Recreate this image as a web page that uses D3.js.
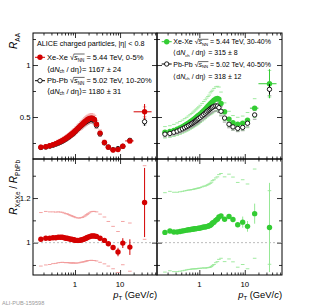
<!DOCTYPE html>
<html>
<head>
<meta charset="utf-8">
<script src="https://cdn.jsdelivr.net/npm/d3@7"></script>
<style>
  body { margin: 0; background: #fff; }
  text { font-family: "Liberation Sans", Arial, sans-serif; fill: #000; }
</style>
</head>
<body>
<svg id="chart" width="315" height="306"></svg>
<script>
// pT bin edges (GeV/c)
const EDGES = [0.15,0.2,0.25,0.3,0.35,0.4,0.45,0.5,0.55,0.6,0.65,0.7,0.75,0.8,0.85,0.9,0.95,1.0,
  1.1,1.2,1.3,1.4,1.5,1.6,1.7,1.8,1.9,2.0,2.2,2.4,2.6,2.8,3.2,4.0,5.0,6.0,8.0,10,13,20,50];

// left: Xe-Xe 0-5% and Pb-Pb 10-20%
const XEXE_0_5 = [0.210,0.215,0.224,0.234,0.244,0.254,0.264,0.274,0.284,0.294,0.304,0.314,0.323,0.332,0.341,0.350,0.359,
  0.372,0.389,0.404,0.418,0.431,0.443,0.454,0.463,0.471,0.478,0.486,0.490,0.487,0.476,0.430,0.345,0.255,0.210,0.182,0.188,0.218,0.270,0.550];
const XEXE_0_5_STAT = [0,0,0,0,0,0,0,0,0,0,0,0,0,0,0,0,0,0,0,0,0,0,0,0,0,0,0,0,0,0,0,0,0,0,0.003,0.004,0.005,0.008,0.015,0.075];
const XEXE_0_5_SYS = [0.018,0.018,0.019,0.020,0.021,0.022,0.022,0.023,0.024,0.025,0.026,0.027,0.027,0.028,0.029,0.030,0.030,
  0.031,0.033,0.034,0.035,0.036,0.037,0.038,0.039,0.040,0.040,0.041,0.042,0.041,0.040,0.037,0.030,0.022,0.018,0.016,0.016,0.018,0.023,0.047];
const PBPB_10_20 = [0.207,0.211,0.220,0.229,0.239,0.248,0.258,0.268,0.278,0.288,0.298,0.308,0.318,0.327,0.336,0.345,0.355,
  0.368,0.385,0.400,0.413,0.425,0.436,0.446,0.454,0.461,0.466,0.473,0.476,0.473,0.462,0.418,0.338,0.252,0.211,0.186,0.196,0.218,0.275,0.455];
const PBPB_10_20_STAT = [0,0,0,0,0,0,0,0,0,0,0,0,0,0,0,0,0,0,0,0,0,0,0,0,0,0,0,0,0,0,0,0,0,0,0,0.002,0.003,0.005,0.010,0.040];
const PBPB_10_20_SYS = [0.014,0.015,0.015,0.016,0.017,0.017,0.018,0.019,0.019,0.020,0.021,0.022,0.022,0.023,0.024,0.024,0.025,
  0.026,0.027,0.028,0.029,0.030,0.031,0.031,0.032,0.032,0.033,0.033,0.033,0.033,0.032,0.029,0.024,0.018,0.015,0.013,0.014,0.015,0.019,0.032];

// right: Xe-Xe 30-40% and Pb-Pb 40-50%
const XEXE_30_40 = [0.353,0.360,0.371,0.383,0.395,0.407,0.419,0.430,0.441,0.452,0.462,0.472,0.482,0.491,0.500,0.509,0.517,
  0.530,0.546,0.561,0.576,0.590,0.603,0.615,0.627,0.638,0.648,0.662,0.674,0.678,0.672,0.630,0.550,0.480,0.445,0.430,0.440,0.470,0.585,0.820];
const XEXE_30_40_STAT = [0,0,0,0,0,0,0,0,0,0,0,0,0,0,0,0,0,0,0,0,0,0,0,0,0,0,0,0,0,0,0,0,0,0,0.004,0.006,0.008,0.012,0.020,0.140];
const XEXE_30_40_SYS = [0.055,0.056,0.058,0.060,0.062,0.063,0.065,0.067,0.069,0.070,0.072,0.074,0.075,0.077,0.078,0.079,0.081,
  0.083,0.085,0.088,0.090,0.092,0.094,0.096,0.105,0.108,0.110,0.113,0.116,0.117,0.116,0.110,0.086,0.075,0.069,0.067,0.069,0.073,0.091,0.128];
const PBPB_40_50 = [0.335,0.342,0.353,0.364,0.375,0.386,0.397,0.407,0.417,0.427,0.436,0.445,0.454,0.462,0.470,0.478,0.486,
  0.497,0.511,0.524,0.537,0.549,0.560,0.570,0.580,0.588,0.595,0.603,0.607,0.605,0.590,0.555,0.490,0.430,0.405,0.390,0.400,0.440,0.520,0.766];
const PBPB_40_50_STAT = [0,0,0,0,0,0,0,0,0,0,0,0,0,0,0,0,0,0,0,0,0,0,0,0,0,0,0,0,0,0,0,0,0,0,0.003,0.004,0.006,0.008,0.015,0.050];
const PBPB_40_50_SYS = [0.027,0.027,0.028,0.029,0.030,0.031,0.032,0.033,0.033,0.034,0.035,0.036,0.036,0.037,0.038,0.038,0.039,
  0.040,0.041,0.042,0.043,0.044,0.045,0.046,0.046,0.047,0.048,0.048,0.049,0.048,0.047,0.044,0.039,0.034,0.032,0.031,0.032,0.034,0.042,0.061];

// ratios Xe-Xe / Pb-Pb
const RATIO_CENTRAL = [1.015,1.020,1.020,1.022,1.022,1.024,1.024,1.024,1.022,1.020,1.020,1.018,1.016,1.015,1.014,1.013,1.012,
  1.010,1.010,1.010,1.012,1.013,1.015,1.017,1.020,1.022,1.025,1.027,1.030,1.030,1.030,1.028,1.020,1.010,0.995,0.978,0.958,0.998,0.980,1.180];
const RATIO_CENTRAL_STAT = [0,0,0,0,0,0,0,0,0,0,0,0,0,0,0,0,0,0,0,0,0,0,0,0,0,0,0,0,0,0,0,0,0,0,0,0.010,0.019,0.022,0.035,0.155];
const RATIO_CENTRAL_SYS = [0.120,0.120,0.118,0.116,0.115,0.114,0.113,0.112,0.111,0.110,0.109,0.108,0.107,0.106,0.105,0.104,0.103,
  0.102,0.101,0.100,0.100,0.100,0.101,0.102,0.103,0.104,0.105,0.107,0.109,0.110,0.110,0.110,0.108,0.105,0.100,0.095,0.092,0.097,0.108,0.165];
const RATIO_PERIPH = [1.046,1.052,1.048,1.048,1.050,1.052,1.054,1.056,1.058,1.058,1.060,1.060,1.062,1.062,1.063,1.064,1.065,
  1.066,1.068,1.070,1.070,1.072,1.074,1.076,1.078,1.082,1.088,1.092,1.100,1.105,1.115,1.120,1.105,1.117,1.104,1.080,1.092,1.073,1.130,1.068];
const RATIO_PERIPH_STAT = [0,0,0,0,0,0,0,0,0,0,0,0,0,0,0,0,0,0,0,0,0,0,0,0,0,0,0,0,0,0,0,0,0,0.005,0.008,0.010,0.025,0.024,0.045,0.200];
const RATIO_PERIPH_SYS = [0.178,0.178,0.178,0.178,0.178,0.178,0.178,0.178,0.178,0.178,0.178,0.178,0.179,0.179,0.180,0.180,0.180,
  0.181,0.182,0.183,0.184,0.185,0.186,0.187,0.188,0.189,0.190,0.190,0.190,0.190,0.190,0.190,0.190,0.190,0.190,0.190,0.190,0.190,0.200,0.165];

const X_TICKS = [1, 10];
const X_MINOR = [0.2,0.3,0.4,0.5,0.6,0.7,0.8,0.9,2,3,4,5,6,7,8,9,20,30,40,50,60];

const RED = '#d40000', RED_LIGHT = '#f29a9a';
const GREEN = '#33cc33', GREEN_LIGHT = '#95e895';

const LEFT = [33, 157], RIGHT = [157, 282], TOP = [33, 159], BOT = [159, 275];

const svg = d3.select('#chart');
const PT = EDGES.slice(0, -1).map((e, i) => (e + EDGES[i + 1]) / 2);

const xL = d3.scaleLog().domain([0.117, 66]).range(LEFT);
const xR = d3.scaleLog().domain([0.117, 66]).range(RIGHT);
const yTop = d3.scaleLinear().domain([0.096, 1.308]).range([TOP[1], TOP[0]]);
const yBot = d3.scaleLinear().domain([0.855, 1.375]).range([BOT[1], BOT[0]]);

let clipId = 0;

function panel(xs, ys, yMajor, yMinor, yLabels, xLabels) {
  const [x0, x1] = xs.range();
  const [y1, y0] = ys.range();
  const g = svg.append('g');

  const tick = (axis, pos, scale, values, len) => {
    g.append('g')
      .attr('transform', pos)
      .call(d3[axis](scale).tickValues(values).tickSize(-len).tickFormat(''))
      .call(s => s.select('.domain').remove())
      .selectAll('line').attr('stroke', '#000').attr('stroke-width', 0.8);
  };
  tick('axisBottom', `translate(0,${y1})`, xs, X_TICKS, 5);
  tick('axisBottom', `translate(0,${y1})`, xs, X_MINOR, 2.5);
  tick('axisTop', `translate(0,${y0})`, xs, X_TICKS, 5);
  tick('axisTop', `translate(0,${y0})`, xs, X_MINOR, 2.5);
  tick('axisLeft', `translate(${x0},0)`, ys, yMajor, 5);
  tick('axisLeft', `translate(${x0},0)`, ys, yMinor, 3);
  tick('axisRight', `translate(${x1},0)`, ys, yMajor, 5);
  tick('axisRight', `translate(${x1},0)`, ys, yMinor, 3);

  g.append('rect')
    .attr('x', x0).attr('y', y0)
    .attr('width', x1 - x0).attr('height', y1 - y0)
    .attr('fill', 'none').attr('stroke', '#000').attr('stroke-width', 1);

  if (yLabels) {
    g.selectAll(null).data(yLabels).enter().append('text')
      .attr('x', x0 - 2.5).attr('y', d => ys(d) + 2.8)
      .attr('text-anchor', 'end').attr('font-size', 7.8)
      .text(d => d);
  }
  if (xLabels) {
    g.selectAll(null).data(X_TICKS).enter().append('text')
      .attr('x', d => xs(d)).attr('y', y1 + 12)
      .attr('text-anchor', 'middle').attr('font-size', 7.8)
      .text(d => d);
  }

  const id = 'clip' + (clipId++);
  svg.append('clipPath').attr('id', id).append('rect')
    .attr('x', x0).attr('y', y0).attr('width', x1 - x0).attr('height', y1 - y0);
  return svg.append('g').attr('clip-path', `url(#${id})`);
}

// systematic boxes: only their top and bottom edges show, as short light dashes
function series(g, xs, ys, vals, stat, sys, opt) {
  const d = vals.map((v, i) => ({ x: PT[i], lo: EDGES[i], hi: EDGES[i + 1], v, s: stat[i], u: sys[i] }));
  const sysG = g.append('g').attr('stroke', opt.sysColor).attr('stroke-width', 0.9);
  [1, -1].forEach(sign => {
    sysG.selectAll(null).data(d).enter().append('line')
      .attr('x1', p => xs(p.x) - 1.8).attr('x2', p => xs(p.x) + 1.8)
      .attr('y1', p => ys(p.v + sign * p.u)).attr('y2', p => ys(p.v + sign * p.u));
  });
  return d;
}

function points(g, xs, ys, d, opt) {
  const eg = g.append('g').attr('stroke', opt.errColor).attr('stroke-width', 1);
  eg.selectAll(null).data(d.filter(p => p.s > 0)).enter().append('line')
    .attr('x1', p => xs(p.x)).attr('x2', p => xs(p.x))
    .attr('y1', p => ys(p.v - p.s)).attr('y2', p => ys(p.v + p.s));
  if (opt.xerr) {
    eg.selectAll(null).data(d.filter(p => p.s > 0)).enter().append('line')
      .attr('x1', p => xs(p.lo)).attr('x2', p => xs(p.hi))
      .attr('y1', p => ys(p.v)).attr('y2', p => ys(p.v));
  }
  g.selectAll(null).data(d).enter().append('circle')
    .attr('cx', p => xs(p.x)).attr('cy', p => ys(p.v))
    .attr('r', opt.open ? 2.2 : 2.7)
    .attr('fill', opt.open ? '#fff' : opt.color)
    .attr('stroke', opt.open ? opt.color : 'none')
    .attr('stroke-width', 0.9);
}

// panels
const gTL = panel(xL, yTop, [0.5, 1], [0.25, 0.75, 1.25], [0.5, 1], false);
const gTR = panel(xR, yTop, [0.5, 1], [0.25, 0.75, 1.25], null, false);
const gBL = panel(xL, yBot, [1, 1.2], [0.9, 1.1, 1.3], [1, 1.2], true);
const gBR = panel(xR, yBot, [1, 1.2], [0.9, 1.1, 1.3], null, true);

// upper left
const pbC = series(gTL, xL, yTop, PBPB_10_20, PBPB_10_20_STAT, PBPB_10_20_SYS, { sysColor: '#aaa' });
const xeC = series(gTL, xL, yTop, XEXE_0_5, XEXE_0_5_STAT, XEXE_0_5_SYS, { sysColor: RED_LIGHT });
points(gTL, xL, yTop, pbC, { color: '#000', errColor: '#000', open: true });
points(gTL, xL, yTop, xeC, { color: RED, errColor: RED, xerr: true });

// upper right
const xeP = series(gTR, xR, yTop, XEXE_30_40, XEXE_30_40_STAT, XEXE_30_40_SYS, { sysColor: GREEN_LIGHT });
const pbP = series(gTR, xR, yTop, PBPB_40_50, PBPB_40_50_STAT, PBPB_40_50_SYS, { sysColor: '#999' });
points(gTR, xR, yTop, xeP, { color: GREEN, errColor: GREEN, xerr: true });
points(gTR, xR, yTop, pbP, { color: '#000', errColor: '#000', open: true });

// ratio panels
[[gBL, xL], [gBR, xR]].forEach(([g, xs]) => {
  g.append('line')
    .attr('x1', xs.range()[0]).attr('x2', xs.range()[1])
    .attr('y1', yBot(1)).attr('y2', yBot(1))
    .attr('stroke', '#aaa').attr('stroke-width', 0.8).attr('stroke-dasharray', '2,2');
});
const rC = series(gBL, xL, yBot, RATIO_CENTRAL, RATIO_CENTRAL_STAT, RATIO_CENTRAL_SYS, { sysColor: RED_LIGHT });
points(gBL, xL, yBot, rC, { color: RED, errColor: RED });
const rP = series(gBR, xR, yBot, RATIO_PERIPH, RATIO_PERIPH_STAT, RATIO_PERIPH_SYS, { sysColor: GREEN_LIGHT });
points(gBR, xR, yBot, rP, { color: GREEN, errColor: GREEN_LIGHT });

// legends
function sqrtLine(x, y, fs, system, energy, cent) {
  const t = svg.append('text').attr('x', x).attr('y', y).attr('font-size', fs);
  t.append('tspan').text(system + ' \u221A');
  t.append('tspan').attr('font-style', 'italic').text('s');
  t.append('tspan').attr('font-size', fs * 0.6).attr('dy', 1.7).text('NN');
  t.append('tspan').attr('dy', -1.7).text(` = ${energy} TeV, ${cent}`);
  const node = t.node();
  const k = node.textContent.indexOf('\u221A');
  const a = node.getExtentOfChar(k), b = node.getExtentOfChar(k + 3);
  svg.append('line')
    .attr('x1', a.x + a.width - 0.3).attr('x2', b.x + b.width + 0.3)
    .attr('y1', a.y + 1).attr('y2', a.y + 1)
    .attr('stroke', '#000').attr('stroke-width', 0.6);
}
function dndeta(x, y, fs, value, sep) {
  const t = svg.append('text').attr('x', x).attr('y', y).attr('font-size', fs);
  t.append('tspan').text('\u27E8d');
  t.append('tspan').attr('font-style', 'italic').text('N');
  t.append('tspan').attr('font-size', fs * 0.6).attr('dy', 1.9).text('ch');
  t.append('tspan').attr('dy', -1.9).text(` / d\u03B7\u27E9${sep}= ${value}`);
}
function marker(x, y, color, open) {
  svg.append('line').attr('x1', x - 5).attr('x2', x + 5).attr('y1', y).attr('y2', y)
    .attr('stroke', color).attr('stroke-width', 1);
  svg.append('circle').attr('cx', x).attr('cy', y).attr('r', open ? 2.2 : 2.7)
    .attr('fill', open ? '#fff' : color).attr('stroke', open ? color : 'none').attr('stroke-width', 0.9);
}

svg.append('text').attr('x', 37).attr('y', 45.8).attr('font-size', 7.2)
  .text('ALICE charged particles, |\u03B7| < 0.8');
marker(40, 57.3, RED, false);
sqrtLine(47, 60, 7.5, 'Xe-Xe', '5.44', '0-5%');
dndeta(47, 71.5, 7.5, '1167 \u00B1 24', '');
marker(40, 80.7, '#000', true);
sqrtLine(47, 83.4, 7.5, 'Pb-Pb', '5.02', '10-20%');
dndeta(47, 93.5, 7.5, '1180 \u00B1 31', '');

marker(166.7, 41.7, GREEN, false);
sqrtLine(173.3, 44.3, 7, 'Xe-Xe', '5.44', '30-40%');
dndeta(173.3, 55, 7, '315 \u00B1 8', ' ');
marker(166.7, 64, '#000', true);
sqrtLine(173.3, 66.6, 7, 'Pb-Pb', '5.02', '40-50%');
dndeta(173.3, 78.5, 7, '318 \u00B1 12', ' ');

// axis titles
const yTitle = (yTop0, build) => {
  const t = svg.append('text')
    .attr('transform', `translate(17,${yTop0}) rotate(-90)`)
    .attr('text-anchor', 'end').attr('font-size', 10);
  build(t);
};
yTitle(33, t => {
  t.append('tspan').attr('font-style', 'italic').text('R');
  t.append('tspan').attr('font-size', 6.5).attr('dy', 2.5).text('AA');
});
yTitle(160, t => {
  t.append('tspan').attr('font-style', 'italic').text('R');
  t.append('tspan').attr('font-size', 6.5).attr('dy', 2.5).text('XeXe');
  t.append('tspan').attr('dy', -2.5).text(' / ');
  t.append('tspan').attr('font-style', 'italic').text('R');
  t.append('tspan').attr('font-size', 6.5).attr('dy', 2.5).text('PbPb');
});

[LEFT[1], RIGHT[1]].forEach(xEnd => {
  const t = svg.append('text').attr('x', xEnd).attr('y', 298)
    .attr('text-anchor', 'end').attr('font-size', 9.4);
  t.append('tspan').attr('font-style', 'italic').text('p');
  t.append('tspan').attr('font-size', 6).attr('dy', 2.2).text('T');
  t.append('tspan').attr('dy', -2.2).text(' (GeV/');
  t.append('tspan').attr('font-style', 'italic').text('c');
  t.append('tspan').text(')');
});

svg.append('text').attr('x', 2).attr('y', 304.5)
  .attr('font-family', '"DejaVu Sans Mono", monospace').attr('font-size', 5.6)
  .style('fill', '#9a9a9a')
  .text('ALI-PUB-159598');
</script>
</body>
</html>
